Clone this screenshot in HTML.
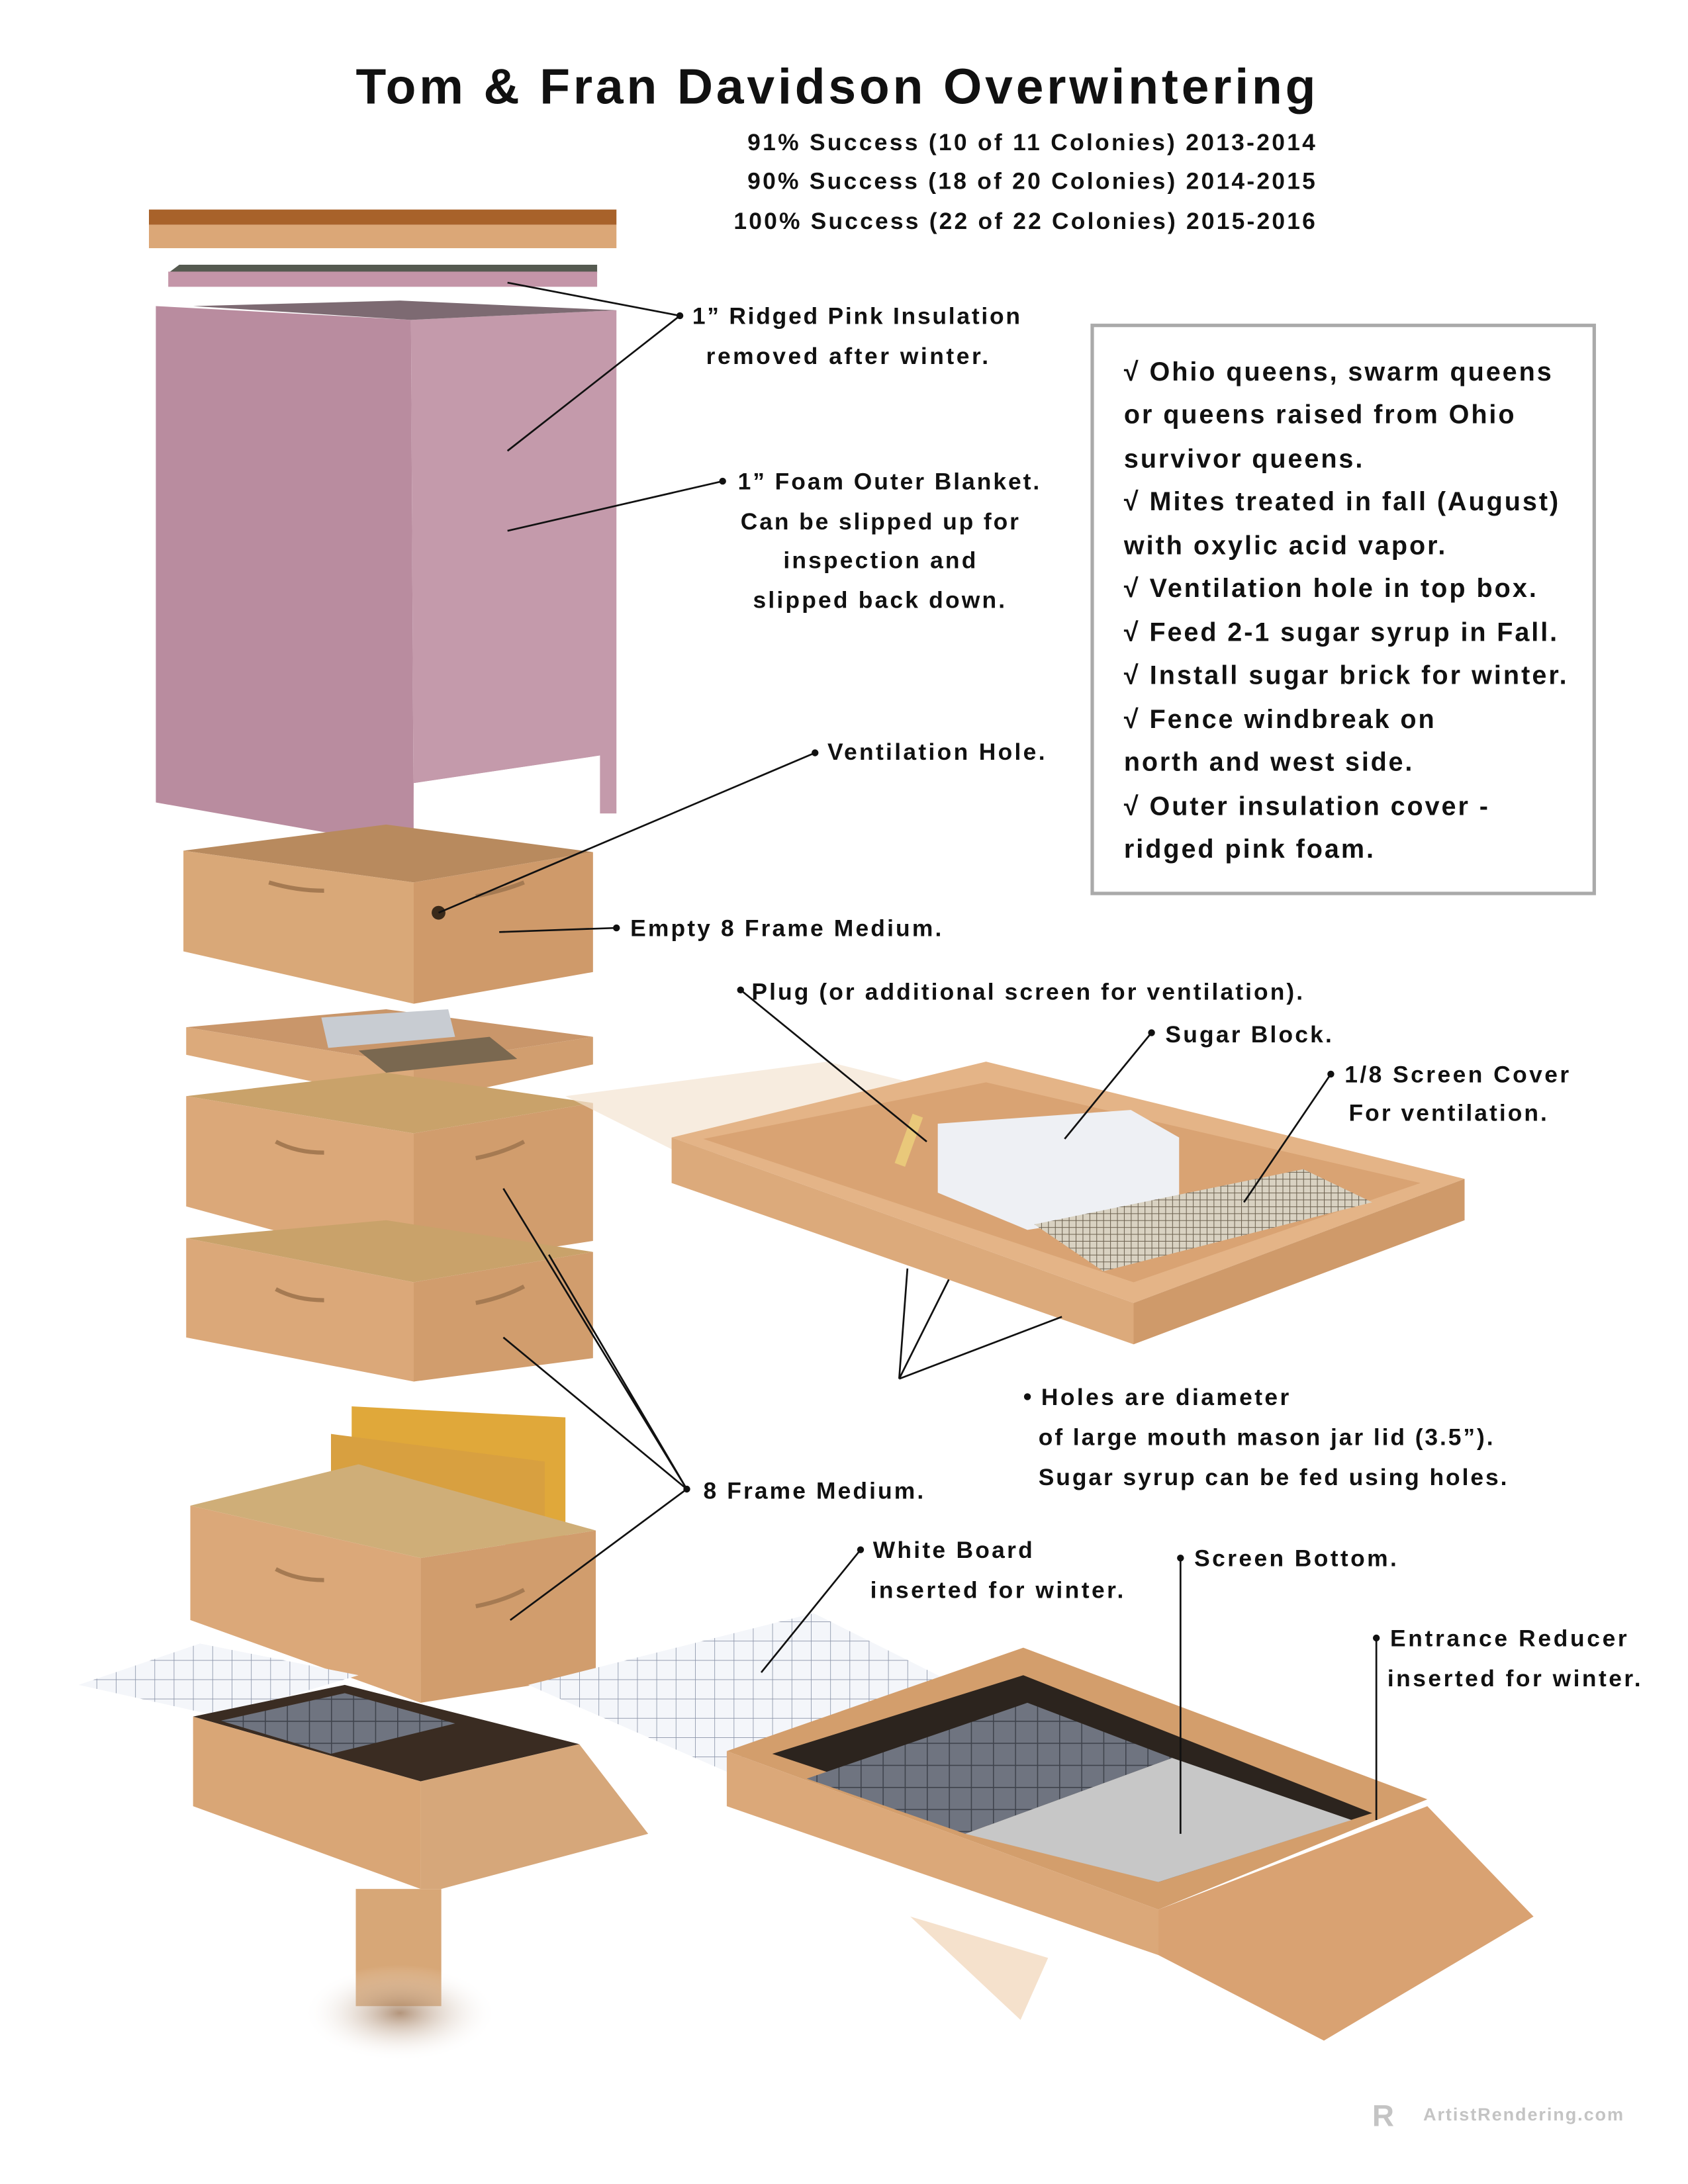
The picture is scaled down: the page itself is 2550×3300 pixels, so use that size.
<!DOCTYPE html>
<html><head><meta charset="utf-8"><style>
html,body{margin:0;padding:0;background:#fff}
svg{display:block}
text{font-family:"Liberation Sans Narrow","Liberation Sans",sans-serif;fill:#111}
.l{font-size:17px;font-weight:bold;letter-spacing:0.3px}
.b{font-size:19px;font-weight:bold}
</style></head><body>
<svg width="2550" height="3300" viewBox="0 0 1224 1584" xmlns="http://www.w3.org/2000/svg">
<defs>
<pattern id="grid" width="14" height="14" patternUnits="userSpaceOnUse"><rect width="14" height="14" fill="#f4f6fa"/><path d="M0 0H14M0 0V14" stroke="#8a93a8" stroke-width="0.8"/></pattern>
<pattern id="mesh" width="5" height="5" patternUnits="userSpaceOnUse"><rect width="5" height="5" fill="#d9d2c2"/><path d="M0 0H5M0 0V5" stroke="#6d6250" stroke-width="1"/></pattern>
<pattern id="dmesh" width="16" height="16" patternUnits="userSpaceOnUse"><rect width="16" height="16" fill="#6f7480"/><path d="M0 0H16M0 0V16" stroke="#3f434c" stroke-width="1.5"/></pattern>
<radialGradient id="dirt"><stop offset="0" stop-color="#a07a5a" stop-opacity="0.8"/><stop offset="1" stop-color="#fff" stop-opacity="0"/></radialGradient>
</defs>
<!-- Title -->
<text x="607" y="75" text-anchor="middle" style="font-family:'Liberation Sans',sans-serif;font-size:36px;font-weight:bold;letter-spacing:2px" textLength="698">Tom &amp; Fran Davidson Overwintering</text>
<text class="l" x="954" y="109" text-anchor="end" textLength="412">91% Success (10 of 11 Colonies) 2013-2014</text>
<text class="l" x="954" y="137" text-anchor="end" textLength="412">90% Success (18 of 20 Colonies) 2014-2015</text>
<text class="l" x="954" y="166" text-anchor="end" textLength="422">100% Success (22 of 22 Colonies) 2015-2016</text>

<!-- Lid -->
<polygon points="108,152 447,152 447,163 108,163" fill="#a8622a"/>
<polygon points="108,163 447,163 447,180 108,180" fill="#dba777"/>
<!-- Pink board -->
<polygon points="130,192 433,192 433,198 122,198" fill="#555a50"/>
<rect x="122" y="197" width="311" height="11" fill="#c495a8"/>
<!-- Pink blanket -->
<polygon points="113,222 298,232 300,615 113,582" fill="#b98c9f"/>
<polygon points="298,232 447,225 447,590 435,590 435,548 300,568 300,615" fill="#c49aab"/>
<polygon points="300,568 435,548 435,590 300,600" fill="#fff"/>
<polygon points="140,222 298,232 447,225 290,218" fill="#7d6a72"/>

<!-- Empty medium -->
<polygon points="133,617 280,598 430,618 300,640" fill="#b88a5e"/>
<polygon points="133,617 300,640 300,728 133,690" fill="#d9a878"/>
<polygon points="300,640 430,618 430,705 300,728" fill="#cf9a6a"/>
<circle cx="318" cy="662" r="5" fill="#3a2a1a"/>
<path d="M195 640 q20 6 40 6 M345 650 q20 -4 35 -10" stroke="#a57a52" stroke-width="3" fill="none"/>

<!-- Inner cover tray -->
<polygon points="135,745 280,732 430,752 300,772" fill="#c9966a"/>
<polygon points="135,745 300,772 300,800 135,765" fill="#dcaa7b"/>
<polygon points="300,772 430,752 430,772 300,800" fill="#d19e6f"/>
<polygon points="233,738 325,732 330,752 238,760" fill="#c8ccd2"/>
<polygon points="260,762 355,752 375,768 280,778" fill="#7a6850"/>

<!-- Box 2 -->
<polygon points="135,795 280,778 430,800 300,822" fill="#c9a26a"/>
<polygon points="135,795 300,822 300,920 135,875" fill="#dba879"/>
<polygon points="300,822 430,800 430,900 300,920" fill="#d19d6d"/>
<!-- Box 3 -->
<polygon points="135,898 280,885 430,908 300,930" fill="#c9a26a"/>
<polygon points="135,898 300,930 300,1002 135,970" fill="#dba879"/>
<polygon points="300,930 430,908 430,985 300,1002" fill="#d19d6d"/>
<!-- frames -->
<polygon points="255,1020 410,1028 410,1120 255,1095" fill="#e0a83a"/>
<polygon points="240,1040 395,1060 395,1125 240,1100" fill="#d8a040"/>
<!-- Box 4 -->
<polygon points="138,1092 260,1062 432,1110 305,1130" fill="#cfae78"/>
<polygon points="138,1092 305,1130 305,1235 138,1175" fill="#dba879"/>
<polygon points="305,1130 432,1110 432,1215 305,1235" fill="#d19d6d"/>
<path d="M200 828 q15 8 35 8 M345 840 q20 -4 35 -12 M200 935 q15 8 35 8 M345 945 q20 -4 35 -12 M200 1138 q15 8 35 8 M345 1165 q20 -4 35 -12" stroke="#a57a52" stroke-width="3" fill="none"/>

<!-- grids -->
<polygon points="57,1222 145,1192 260,1215 160,1245" fill="url(#grid)"/>
<polygon points="383,1222 590,1170 720,1235 527,1285" fill="url(#grid)"/>

<!-- Bottom board -->
<polygon points="140,1245 250,1222 420,1265 305,1292" fill="#3a2c22"/>
<polygon points="160,1248 250,1228 330,1250 240,1272" fill="url(#dmesh)"/>
<polygon points="140,1245 305,1292 305,1370 140,1310" fill="#d9a676"/>
<polygon points="305,1292 420,1265 470,1330 320,1370 305,1370" fill="#d29d6c" opacity="0.9"/>
<rect x="258" y="1370" width="62" height="85" fill="#d7a777"/>
<ellipse cx="290" cy="1460" rx="70" ry="35" fill="url(#dirt)"/>

<!-- Right tray -->
<polygon points="410,795 600,770 720,800 500,840" fill="#f3e4d2" opacity="0.7"/>
<polygon points="487,825 715,770 1062,855 822,945" fill="#e4b487"/>
<polygon points="510,826 715,785 1030,858 822,930" fill="#d9a373"/>
<polygon points="487,825 822,945 822,975 487,858" fill="#dcaa7b"/>
<polygon points="822,945 1062,855 1062,885 822,975" fill="#cf9a6a"/>
<polygon points="680,815 820,805 855,825 855,875 745,892 680,865" fill="#eef0f4"/>
<polygon points="750,888 945,848 995,872 800,922" fill="url(#mesh)"/>
<rect x="655" y="808" width="8" height="38" fill="#e9c87a" transform="rotate(20 659 827)"/>

<!-- Screen bottom -->
<polygon points="527,1270 742,1195 1035,1305 840,1385" fill="#d39e6c"/>
<polygon points="560,1272 742,1215 995,1315 840,1365" fill="#2c241e"/>
<polygon points="585,1290 745,1235 850,1275 700,1330" fill="url(#dmesh)"/>
<polygon points="700,1330 850,1275 980,1320 840,1365" fill="#c7c7c7"/>
<polygon points="527,1270 840,1385 840,1418 527,1310" fill="#dba879"/>
<polygon points="840,1385 1035,1310 1112,1390 960,1480 840,1418" fill="#d9a272"/>
<polygon points="660,1390 760,1420 740,1465" fill="#f1d4b6" opacity="0.7"/>

<!-- Checklist box -->
<rect x="792" y="236" width="364" height="412" fill="#fff" stroke="#aaa" stroke-width="2.5"/>
<g class="b">
<text class="b" x="815" y="276" textLength="310">√ Ohio queens, swarm queens</text>
<text class="b" x="815" y="307" textLength="283">or queens raised from Ohio</text>
<text class="b" x="815" y="339" textLength="173">survivor queens.</text>
<text class="b" x="815" y="370" textLength="315">√ Mites treated in fall (August)</text>
<text class="b" x="815" y="402" textLength="233">with oxylic acid vapor.</text>
<text class="b" x="815" y="433" textLength="299">√ Ventilation hole in top box.</text>
<text class="b" x="815" y="465" textLength="314">√ Feed 2-1 sugar syrup in Fall.</text>
<text class="b" x="815" y="496" textLength="321">√ Install sugar brick for winter.</text>
<text class="b" x="815" y="528" textLength="225">√ Fence windbreak on</text>
<text class="b" x="815" y="559" textLength="209">north and west side.</text>
<text class="b" x="815" y="591" textLength="264">√ Outer insulation cover -</text>
<text class="b" x="815" y="622" textLength="181">ridged pink foam.</text>
</g>

<!-- leader lines -->
<g stroke="#111" stroke-width="1.3" fill="none">
<path d="M493 229 L368 205 M493 229 L368 327"/>
<path d="M524 349 L368 385"/>
<path d="M591 546 L318 662"/>
<path d="M447 673 L362 676"/>
<path d="M537 718 L672 828"/>
<path d="M835 749 L772 826"/>
<path d="M965 779 L902 872"/>
<path d="M652 1000 L658 920 M652 1000 L688 928 M652 1000 L770 955"/>
<path d="M498 1080 L365 862 M498 1080 L398 910 M498 1080 L365 970 M498 1080 L370 1175"/>
<path d="M624 1124 L552 1213"/>
<path d="M856 1130 L856 1330"/>
<path d="M998 1188 L998 1320"/>
</g>
<g fill="#111">
<circle cx="493" cy="229" r="2.5"/><circle cx="524" cy="349" r="2.5"/><circle cx="591" cy="546" r="2.5"/>
<circle cx="447" cy="673" r="2.5"/><circle cx="537" cy="718" r="2.5"/><circle cx="835" cy="749" r="2.5"/>
<circle cx="965" cy="779" r="2.5"/><circle cx="498" cy="1080" r="2.5"/><circle cx="624" cy="1124" r="2.5"/>
<circle cx="856" cy="1130" r="2.5"/><circle cx="998" cy="1188" r="2.5"/><circle cx="745" cy="1013" r="2.5"/>
</g>
<!-- labels -->
<text class="l" x="502" y="235" textLength="238">1” Ridged Pink Insulation</text>
<text class="l" x="512" y="264" textLength="205">removed after winter.</text>
<text class="l" x="535" y="355" textLength="219">1” Foam Outer Blanket.</text>
<text class="l" x="537" y="384" textLength="202">Can be slipped up for</text>
<text class="l" x="568" y="412" textLength="140">inspection and</text>
<text class="l" x="546" y="441" textLength="183">slipped back down.</text>
<text class="l" x="600" y="551" textLength="158">Ventilation Hole.</text>
<text class="l" x="457" y="679" textLength="226">Empty 8 Frame Medium.</text>
<text class="l" x="545" y="725" textLength="400">Plug (or additional screen for ventilation).</text>
<text class="l" x="845" y="756" textLength="121">Sugar Block.</text>
<text class="l" x="975" y="785" textLength="163">1/8 Screen Cover</text>
<text class="l" x="978" y="813" textLength="144">For ventilation.</text>
<text class="l" x="755" y="1019" textLength="180">Holes are diameter</text>
<text class="l" x="753" y="1048" textLength="330">of large mouth mason jar lid (3.5”).</text>
<text class="l" x="753" y="1077" textLength="340">Sugar syrup can be fed using holes.</text>
<text class="l" x="510" y="1087" textLength="160">8 Frame Medium.</text>
<text class="l" x="633" y="1130" textLength="116">White Board</text>
<text class="l" x="631" y="1159" textLength="184">inserted for winter.</text>
<text class="l" x="866" y="1136" textLength="147">Screen Bottom.</text>
<text class="l" x="1008" y="1194" textLength="172">Entrance Reducer</text>
<text class="l" x="1006" y="1223" textLength="184">inserted for winter.</text>
<text x="1032" y="1538" style="font-size:13px;font-weight:bold;fill:#c4c4c4" textLength="145">ArtistRendering.com</text>
<text x="995" y="1542" style="font-size:22px;font-weight:bold;fill:#c4c4c4">R</text>
</svg>
</body></html>
